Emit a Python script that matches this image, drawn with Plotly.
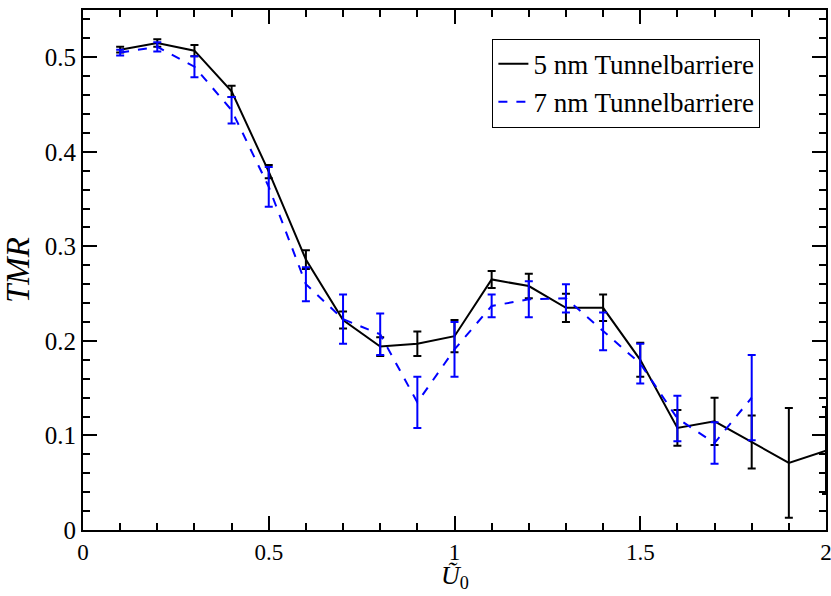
import plotly.graph_objects as go

x5 = [0.1, 0.2, 0.3, 0.4, 0.5, 0.6, 0.7, 0.8, 0.9, 1.0, 1.1, 1.2, 1.3, 1.4, 1.5, 1.6, 1.7, 1.8, 1.9, 2.0]
tmr5 = [0.508, 0.515, 0.507, 0.464, 0.379, 0.286, 0.222, 0.194, 0.197, 0.205, 0.265, 0.258, 0.235, 0.235, 0.180, 0.108, 0.115, 0.093, 0.071, 0.084]
err5 = [0.003, 0.004, 0.006, 0.006, 0.007, 0.010, 0.009, 0.010, 0.013, 0.017, 0.009, 0.013, 0.015, 0.014, 0.018, 0.019, 0.025, 0.028, 0.058, 0.046]

x7 = [0.1, 0.2, 0.3, 0.4, 0.5, 0.6, 0.7, 0.8, 0.9, 1.0, 1.1, 1.2, 1.3, 1.4, 1.5, 1.6, 1.7, 1.8]
tmr7 = [0.505, 0.511, 0.490, 0.444, 0.363, 0.260, 0.223, 0.207, 0.135, 0.191, 0.237, 0.244, 0.245, 0.210, 0.176, 0.118, 0.092, 0.140]
err7 = [0.003, 0.005, 0.011, 0.014, 0.021, 0.018, 0.026, 0.022, 0.027, 0.029, 0.012, 0.019, 0.015, 0.020, 0.021, 0.024, 0.022, 0.045]

xticks = [0, 0.5, 1, 1.5, 2]
xticklabels = ["0", "0.5", "1", "1.5", "2"]
yticks = [0, 0.1, 0.2, 0.3, 0.4, 0.5]
yticklabels = ["0", "0.1", "0.2", "0.3", "0.4", "0.5"]

font = "Liberation Serif"

fig = go.Figure()
fig.add_trace(go.Scatter(
    x=x5, y=tmr5, mode="lines", name="5 nm Tunnelbarriere",
    line=dict(color="black", width=2),
    error_y=dict(type="data", array=err5, color="black", thickness=2, width=4),
))
fig.add_trace(go.Scatter(
    x=x7, y=tmr7, mode="lines", name="7 nm Tunnelbarriere",
    line=dict(color="#0000ff", width=2, dash="dash"),
    error_y=dict(type="data", array=err7, color="#0000ff", thickness=2, width=4),
))

axis_common = dict(
    showline=True, linecolor="black", linewidth=2, mirror="ticks",
    ticks="inside", ticklen=14, tickwidth=1.5, tickcolor="black",
    showgrid=False, zeroline=False, automargin=False,
    ticklabeloverflow="allow",
)
fig.update_xaxes(
    range=[0, 2], tickvals=xticks, ticktext=xticklabels,
    minor=dict(dtick=0.1, ticks="inside", ticklen=7, tickwidth=1.5, tickcolor="black", showgrid=False),
    tickfont=dict(family=font, size=23, color="black"),
    **axis_common,
)
fig.update_yaxes(
    range=[0, 0.55], tickvals=yticks, ticktext=yticklabels,
    minor=dict(dtick=0.02, ticks="inside", ticklen=7, tickwidth=1.5, tickcolor="black", showgrid=False),
    tickfont=dict(family=font, size=25, color="black"),
    title=dict(text="<i>TMR</i>", font=dict(family=font, size=33, color="black"), standoff=6),
    **axis_common,
)
fig.add_annotation(
    text="<i>Ũ</i><sub>0</sub>", xref="paper", yref="paper", x=0.5, y=0,
    xanchor="center", yanchor="bottom", yshift=-65, showarrow=False,
    font=dict(family=font, size=26, color="black"),
)
fig.update_layout(
    width=831, height=596,
    margin=dict(l=83, r=5, t=10, b=66),
    plot_bgcolor="white", paper_bgcolor="white",
    font=dict(family=font, color="black"),
    legend=dict(
        x=0.551, y=0.945, xanchor="left", yanchor="top",
        bgcolor="white", bordercolor="black", borderwidth=1,
        font=dict(family=font, size=27, color="black"),
        tracegroupgap=0, itemwidth=30,
    ),
    showlegend=True,
)
fig.write_html("out.html")
